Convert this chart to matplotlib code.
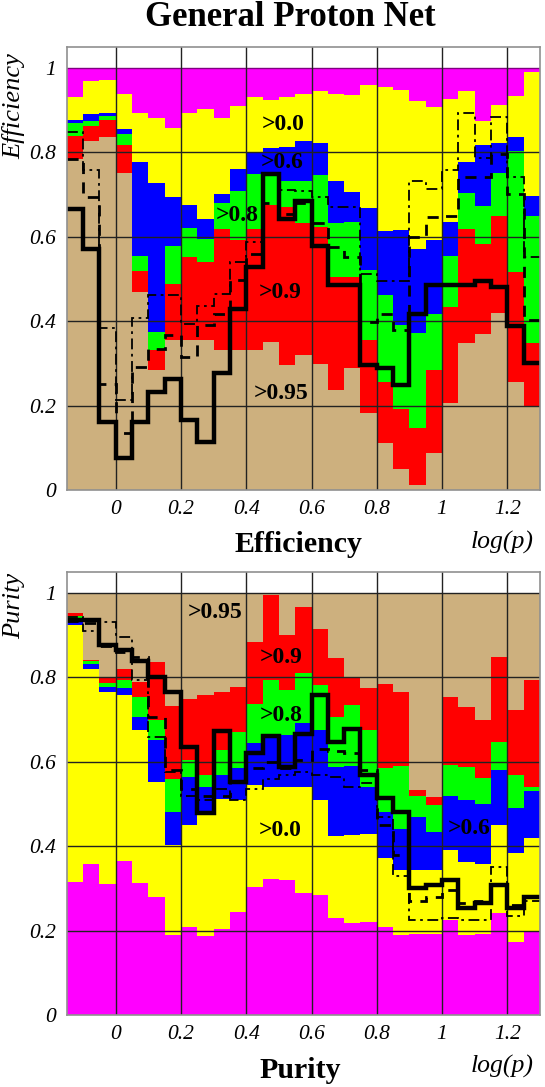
import numpy as np
import matplotlib
matplotlib.use("Agg")
import matplotlib.pyplot as plt

# ---------------- data ----------------
bin_edges = np.linspace(-0.15, 1.3, 30)   # log(p) bins, width 0.05

# Efficiency panel (cut thresholds)
eff_none = [1.0] * 29
eff_00 = [0.930, 0.968, 0.971, 0.939, 0.894, 0.881, 0.857, 0.894, 0.902, 0.881, 0.910, 0.931, 0.924, 0.931, 0.939,
          0.946, 0.938, 0.935, 0.959, 0.955, 0.947, 0.922, 0.908, 0.926, 0.946, 0.875, 0.913, 0.934, 0.990]
eff_06 = [0.876, 0.890, 0.894, 0.855, 0.778, 0.727, 0.695, 0.674, 0.642, 0.700, 0.760, 0.801, 0.810, 0.813, 0.826,
          0.823, 0.733, 0.705, 0.668, 0.613, 0.616, 0.571, 0.593, 0.634, 0.776, 0.818, 0.823, 0.837, 0.697]
eff_08 = [0.869, 0.875, 0.886, 0.843, 0.555, 0.374, 0.579, 0.621, 0.595, 0.680, 0.709, 0.749, 0.752, 0.733, 0.733,
          0.745, 0.632, 0.634, 0.520, 0.461, 0.390, 0.372, 0.418, 0.555, 0.703, 0.672, 0.751, 0.804, 0.648]
eff_09 = [0.839, 0.863, 0.876, 0.816, 0.519, 0.331, 0.489, 0.553, 0.540, 0.618, 0.592, 0.619, 0.674, 0.670, 0.632,
          0.622, 0.504, 0.504, 0.355, 0.256, 0.191, 0.146, 0.284, 0.433, 0.618, 0.583, 0.650, 0.516, 0.348]
eff_095 = [0.784, 0.827, 0.837, 0.752, 0.469, 0.284, 0.355, 0.355, 0.355, 0.331, 0.331, 0.331, 0.351, 0.296, 0.319,
           0.298, 0.236, 0.290, 0.183, 0.112, 0.049, 0.012, 0.088, 0.205, 0.347, 0.370, 0.419, 0.256, 0.199]
eff_solid = [0.666, 0.571, 0.161, 0.075, 0.161, 0.232, 0.264, 0.165, 0.114, 0.276, 0.429, 0.528, 0.749, 0.642, 0.685,
             0.579, 0.485, 0.485, 0.295, 0.290, 0.248, 0.418, 0.485, 0.485, 0.485, 0.495, 0.481, 0.388, 0.301]
eff_dashdot = [0.847, 0.757, 0.384, 0.213, 0.408, 0.461, 0.461, 0.394, 0.437, 0.465, 0.540, 0.587, 0.750, 0.710, 0.709,
               0.693, 0.671, 0.671, 0.511, 0.495, 0.495, 0.733, 0.713, 0.758, 0.894, 0.786, 0.884, 0.742, 0.552]
eff_dashed = [0.784, 0.693, 0.250, 0.134, 0.291, 0.333, 0.366, 0.315, 0.390, 0.418, 0.498, 0.560, 0.680, 0.654, 0.680,
              0.632, 0.575, 0.553, 0.398, 0.418, 0.378, 0.599, 0.646, 0.650, 0.741, 0.741, 0.797, 0.700, 0.402]

# Purity panel
pur_095 = [1.0] * 29
pur_09 = [0.952, 0.841, 0.798, 0.821, 0.790, 0.837, 0.732, 0.750, 0.758, 0.766, 0.778, 0.885, 0.995, 0.900, 0.966,
          0.916, 0.845, 0.798, 0.776, 0.784, 0.766, 0.533, 0.517, 0.753, 0.731, 0.699, 0.849, 0.723, 0.795]
pur_08 = [0.945, 0.838, 0.786, 0.794, 0.754, 0.699, 0.560, 0.604, 0.570, 0.628, 0.671, 0.738, 0.794, 0.770, 0.811,
          0.782, 0.707, 0.735, 0.675, 0.585, 0.590, 0.520, 0.498, 0.592, 0.587, 0.561, 0.648, 0.569, 0.541]
pur_06 = [0.935, 0.832, 0.777, 0.774, 0.707, 0.652, 0.482, 0.565, 0.540, 0.569, 0.585, 0.644, 0.656, 0.664, 0.691,
          0.675, 0.588, 0.590, 0.541, 0.480, 0.440, 0.470, 0.434, 0.520, 0.510, 0.500, 0.581, 0.490, 0.530]
pur_00 = [0.924, 0.821, 0.766, 0.758, 0.675, 0.553, 0.403, 0.450, 0.475, 0.513, 0.509, 0.545, 0.541, 0.540, 0.540,
          0.510, 0.424, 0.426, 0.430, 0.371, 0.344, 0.344, 0.344, 0.391, 0.363, 0.359, 0.450, 0.383, 0.419]
pur_none = [0.316, 0.359, 0.310, 0.365, 0.312, 0.279, 0.190, 0.209, 0.187, 0.203, 0.245, 0.304, 0.323, 0.321, 0.288,
            0.284, 0.229, 0.219, 0.221, 0.208, 0.190, 0.193, 0.193, 0.225, 0.190, 0.193, 0.241, 0.174, 0.197]
pur_solid = [0.936, 0.936, 0.877, 0.865, 0.840, 0.802, 0.766, 0.636, 0.478, 0.674, 0.553, 0.622, 0.661, 0.588, 0.666,
             0.758, 0.648, 0.679, 0.569, 0.515, 0.482, 0.300, 0.308, 0.320, 0.253, 0.266, 0.308, 0.253, 0.280]
pur_dashdot = [0.944, 0.910, 0.932, 0.897, 0.794, 0.660, 0.577, 0.520, 0.510, 0.535, 0.510, 0.535, 0.560, 0.570, 0.575,
               0.570, 0.565, 0.540, 0.550, 0.470, 0.330, 0.225, 0.225, 0.230, 0.225, 0.225, 0.350, 0.235, 0.270]
pur_dashed = [0.935, 0.930, 0.875, 0.860, 0.848, 0.707, 0.580, 0.535, 0.520, 0.520, 0.555, 0.585, 0.600, 0.585, 0.605,
              0.630, 0.625, 0.620, 0.580, 0.450, 0.380, 0.270, 0.280, 0.296, 0.265, 0.270, 0.310, 0.260, 0.280]

xticks = [0, 0.2, 0.4, 0.6, 0.8, 1.0, 1.2]
xticklabels = ["0", "0.2", "0.4", "0.6", "0.8", "1", "1.2"]
yticks = [0, 0.2, 0.4, 0.6, 0.8, 1.0]
yticklabels = ["0", "0.2", "0.4", "0.6", "0.8", "1"]

# ---------------- style ----------------
C_MAG = "#FF00FF"
C_YEL = "#FFFF00"
C_BLU = "#0000FF"
C_GRN = "#00FF00"
C_RED = "#FF0000"
C_TAN = "#CDB07E"
SERIF = ["Liberation Serif", "DejaVu Serif"]

W, H = 545, 1087
fig = plt.figure(figsize=(W / 100, H / 100), dpi=100)
fig.patch.set_facecolor("white")

left_px, right_px = 66.7, 540.0


def make_ax(top_px, bot_px):
    return fig.add_axes([left_px / W, 1 - bot_px / H, (right_px - left_px) / W, (bot_px - top_px) / H])


def style_ax(ax):
    ax.set_xlim(-0.15, 1.3)
    ax.set_ylim(0, 1.05)
    ax.set_xticks(xticks)
    ax.set_xticklabels(xticklabels, fontfamily=SERIF, fontstyle="italic", fontsize=15.5)
    ax.set_yticks(yticks)
    ax.set_yticklabels(yticklabels, fontfamily=SERIF, fontstyle="italic", fontsize=15.5)
    ax.tick_params(axis="both", length=0)
    ax.tick_params(axis="x", pad=7)
    ax.tick_params(axis="y", pad=8)
    for s in ax.spines.values():
        s.set_color("#909090")
        s.set_linewidth(1.2)
        s.set_zorder(6)
    for xv in xticks:
        ax.axvline(xv, color="#222222", lw=1.0, zorder=2)
    for yv in [0.2, 0.4, 0.6, 0.8]:
        ax.axhline(yv, color="#222222", lw=1.0, zorder=2)


def fills(ax, layers):
    for vals, col in layers:
        ax.stairs(vals, bin_edges, fill=True, baseline=0, color=col, lw=0, zorder=1)


def lines(ax, solid, dashed, dashdot):
    ax.stairs(dashdot, bin_edges, baseline=None, color="black", lw=1.3,
              linestyle=(0, (6, 2.5, 1.5, 2.5)), zorder=3)
    ax.stairs(dashed, bin_edges, baseline=None, color="black", lw=2.0,
              linestyle=(0, (4, 3)), zorder=3)
    ax.stairs(solid, bin_edges, baseline=None, color="black", lw=3.2, zorder=4)


def lab(ax, x, y, s):
    ax.text(x, y, s, fontfamily=SERIF, fontweight="bold", fontsize=17,
            ha="center", va="center", zorder=5)


# ---------------- top: efficiency ----------------
ax1 = make_ax(46.7, 490.0)
fills(ax1, [(eff_none, C_MAG), (eff_00, C_YEL), (eff_06, C_BLU),
            (eff_08, C_GRN), (eff_09, C_RED), (eff_095, C_TAN)])
ax1.axhline(1.0, color="#800080", lw=1.0, zorder=2)
style_ax(ax1)
lines(ax1, eff_solid, eff_dashed, eff_dashdot)
lab(ax1, 0.512, 0.865, ">0.0")
lab(ax1, 0.509, 0.775, ">0.6")
lab(ax1, 0.371, 0.650, ">0.8")
lab(ax1, 0.503, 0.468, ">0.9")
lab(ax1, 0.506, 0.229, ">0.95")

# ---------------- bottom: purity ----------------
ax2 = make_ax(572.0, 1015.0)
fills(ax2, [(pur_095, C_TAN), (pur_09, C_RED), (pur_08, C_GRN),
            (pur_06, C_BLU), (pur_00, C_YEL), (pur_none, C_MAG)])
ax2.axhline(1.0, color="#222222", lw=1.0, zorder=2)
style_ax(ax2)
lines(ax2, pur_solid, pur_dashed, pur_dashdot)
lab(ax2, 0.306, 0.953, ">0.95")
lab(ax2, 0.506, 0.848, ">0.9")
lab(ax2, 0.506, 0.711, ">0.8")
lab(ax2, 0.503, 0.438, ">0.0")
lab(ax2, 1.084, 0.441, ">0.6")

# ---------------- texts ----------------
fig.text(290 / W, 1 - 18 / H, "General Proton Net", fontfamily=SERIF, fontweight="bold",
         fontsize=25, ha="center", va="center")
fig.text(298 / W, 1 - 545 / H, "Efficiency", fontfamily=SERIF, fontweight="bold",
         fontsize=21.5, ha="center", va="center")
fig.text(502 / W, 1 - 542 / H, "log(p)", fontfamily=SERIF, fontstyle="italic",
         fontsize=18.5, ha="center", va="center")
fig.text(300 / W, 1 - 1071 / H, "Purity", fontfamily=SERIF, fontweight="bold",
         fontsize=21.5, ha="center", va="center")
fig.text(502 / W, 1 - 1066 / H, "log(p)", fontfamily=SERIF, fontstyle="italic",
         fontsize=18.5, ha="center", va="center")
fig.text(14 / W, 1 - 53 / H, "Efficiency", fontfamily=SERIF, fontstyle="italic",
         fontsize=19, rotation=90, ha="center", va="top")
fig.text(14 / W, 1 - 573 / H, "Purity", fontfamily=SERIF, fontstyle="italic",
         fontsize=19, rotation=90, ha="center", va="top")

fig.savefig("out.png", dpi=100)
